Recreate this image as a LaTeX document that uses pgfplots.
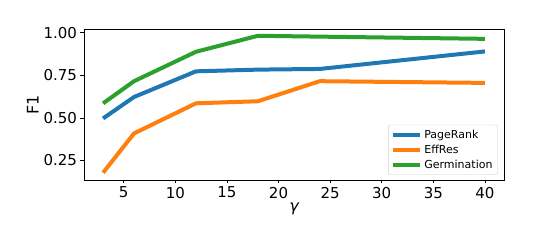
\documentclass[border=0pt]{standalone}
\usepackage{pgfplots}
\pgfplotsset{compat=1.18}
\usepackage{fontspec}
\setmainfont{DejaVu Sans}
\definecolor{tabblue}{HTML}{1F77B4}
\definecolor{taborange}{HTML}{FF7F0E}
\definecolor{tabgreen}{HTML}{2CA02C}
\begin{document}
\begin{tikzpicture}[x=1pt,y=1pt]
  \useasboundingbox (0,0) rectangle (560,240);
  \begin{axis}[
      at={(84pt,60pt)}, anchor=south west,
      scale only axis,
      width=420pt, height=150.5pt,
      xmin=1.15, xmax=41.85,
      ymin=0.135, ymax=1.02,
      xtick={5,10,15,20,25,30,35,40},
      ytick={0.25,0.50,0.75,1.00},
      yticklabel style={/pgf/number format/.cd, fixed, fixed zerofill, precision=2},
      /pgf/number format/assume math mode=true,
      tick label style={font=\fontsize{15}{17}\selectfont},
      tick align=outside, tick pos=left,
      major tick length=3.5pt,
      every tick/.style={black, line width=0.8pt},
      axis line style={line width=0.8pt},
      xlabel={\itshape γ},
      ylabel={F1},
      label style={font=\fontsize{16}{18}\selectfont},
      xlabel style={yshift=2pt},
      ylabel style={yshift=-2pt},
      legend style={at={(0.985,0.035)}, anchor=south east,
        font=\fontsize{11}{13}\selectfont, draw=black!20, fill=white, fill opacity=0.8, text opacity=1,
        rounded corners=2pt, row sep=1pt, inner sep=3pt},
      legend cell align=left,
      legend image code/.code={\draw[#1, line width=4pt] (0pt,0pt) -- (27pt,0pt);},
      every axis plot/.append style={line width=4pt},
    ]
    \addplot[tabblue] coordinates {(3,0.497) (6,0.623) (12,0.774) (18,0.784) (24,0.788) (40,0.891)};
    \addplot[taborange] coordinates {(3,0.178) (6,0.409) (12,0.586) (18,0.598) (24,0.716) (40,0.706)};
    \addplot[tabgreen] coordinates {(3,0.586) (6,0.716) (12,0.889) (18,0.983) (24,0.978) (40,0.965)};
    \legend{PageRank, EffRes, Germination}
  \end{axis}
\end{tikzpicture}
\end{document}
